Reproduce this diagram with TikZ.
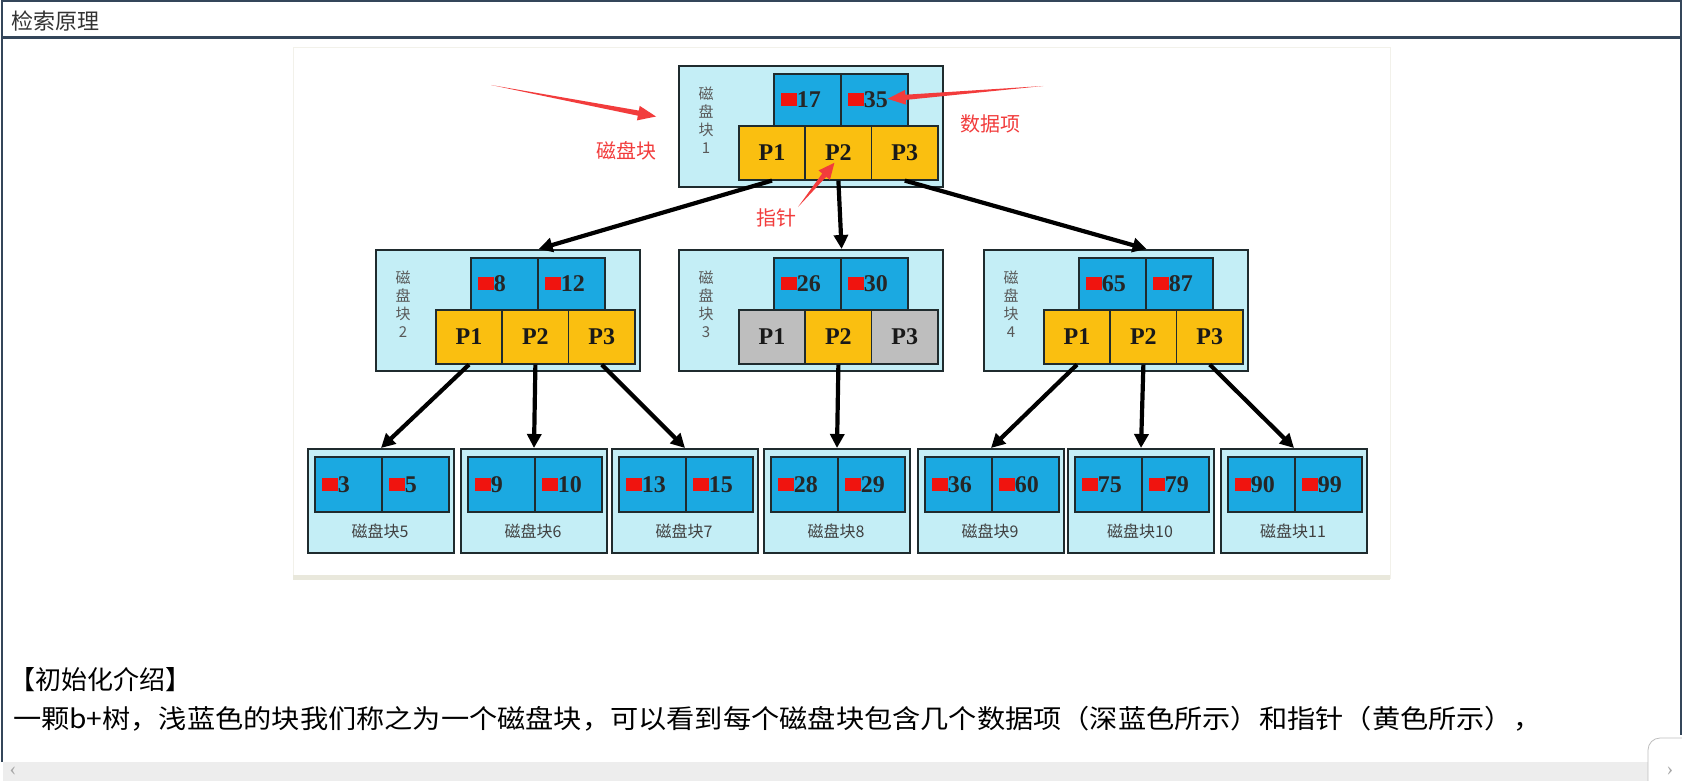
\documentclass[tikz,border=0pt]{standalone}
\usepackage{fontspec}
\setmainfont{Liberation Serif}
\newfontfamily\cjk{Noto Sans CJK SC}
\usetikzlibrary{arrows.meta,calc}

\definecolor{blockblue}{HTML}{C4EEF6}
\definecolor{itemblue}{HTML}{1BA9E1}
\definecolor{ptryellow}{HTML}{FABF10}
\definecolor{ptrgray}{HTML}{BEBEBE}
\definecolor{itemred}{HTML}{F0140F}
\definecolor{notered}{HTML}{F23C3C}
\definecolor{edgedark}{HTML}{1F2B2E}
\definecolor{framedark}{HTML}{34465A}
\definecolor{panelrim}{HTML}{E9E8DC}

\tikzset{
  blockbox/.style={draw=edgedark, line width=1pt, fill=blockblue, inner sep=0pt, anchor=north west},
  itemcell/.style={draw=edgedark, line width=0.8pt, fill=itemblue, anchor=north west, minimum height=26pt,
    text width=26.5pt, inner xsep=3.5pt, inner ysep=0pt, align=left, text=black!85,
    font=\fontsize{12pt}{14pt}\selectfont\bfseries},
  ptrcell/.style={draw=edgedark, line width=0.8pt, anchor=north west, minimum width=33.2pt, minimum height=27pt,
    inner sep=0pt, text=black!90, font=\fontsize{12pt}{14pt}\selectfont\bfseries},
  blocklabel/.style={align=center, text=black!65, font=\cjk\fontsize{7.5pt}{9pt}\selectfont},
  leaflabel/.style={text=black!75, font=\cjk\fontsize{8pt}{10pt}\selectfont},
  ptrarrow/.style={line width=2.1pt, -{Triangle[length=7pt,width=7pt]}},
  notetext/.style={text=notered, font=\cjk\fontsize{10pt}{12pt}\selectfont},
  pagetext/.style={anchor=west, font=\cjk\fontsize{13pt}{15pt}\selectfont},
}

\newcommand{\redmark}{{\color{itemred}\rule[0.7pt]{8pt}{6.5pt}}}

\begin{document}
\begin{tikzpicture}[x=0.5pt, y=-0.5pt]
  \useasboundingbox (0,0) rectangle (1682,781);

  % Define the macros.
  % \diskBlock: 1st name, 2nd left edge, 3rd top edge, 4th block number,
  % 5th and 6th data items, 7th to 9th fill of the pointers P1 to P3.
  \newcommand{\diskBlock}[9]{
    \def\bx{#2} % left edge of the block
    \def\by{#3} % top edge of the block
    \node[blockbox, minimum width=132pt, minimum height=60.5pt] (#1) at (\bx,\by) {};
    \node[blocklabel] (#1n) at (\bx+28,\by+55) {磁\\盘\\块\\#4};
    \node[itemcell] (#1d1) at (\bx+95,\by+8) {\redmark#5};   % data items
    \node[itemcell] (#1d2) at (\bx+162,\by+8) {\redmark#6};
    \node[ptrcell, fill=#7] (#1p1) at (\bx+60,\by+60) {P1};  % pointers
    \node[ptrcell, fill=#8] (#1p2) at (\bx+126.4,\by+60) {P2};
    \node[ptrcell, fill=#9] (#1p3) at (\bx+192.8,\by+60) {P3};
  }
  % \leafBlock: 1st name, 2nd left edge, 3rd and 4th data items, 5th block number.
  \newcommand{\leafBlock}[5]{
    \def\bx{#2}
    \node[blockbox, minimum width=73pt, minimum height=52pt] (#1) at (\bx,448) {};
    \node[itemcell, minimum height=27.5pt] (#1d1) at (\bx+7,456) {\redmark#3};
    \node[itemcell, minimum height=27.5pt] (#1d2) at (\bx+74,456) {\redmark#4};
    \node[leaflabel] (#1n) at (\bx+73,531) {磁盘块#5};
  }
  % \noteArrow: 1st tail, 2nd tip, 3rd length of the head.
  \newcommand{\noteArrow}[3]{
    \coordinate (hb) at ($(#2)!#3!(#1)$);
    \fill[notered] (#1) -- ($(hb)!1.3pt!90:(#2)$) -- ($(hb)!3.7pt!90:(#2)$) -- (#2)
      -- ($(hb)!3.7pt!-90:(#2)$) -- ($(hb)!1.3pt!-90:(#2)$) -- cycle;
  }

  % PAGE
  \draw[framedark, line width=1pt] (2,762) -- (2,1) -- (1681,1) -- (1681,735);
  \node[anchor=west, text=black!80, font=\cjk\fontsize{11pt}{13pt}\selectfont] (title) at (4,21) {检索原理};
  \draw[framedark, line width=1.5pt] (2,37.5) -- (1682,37.5);
  \draw[panelrim!60, fill=white] (293,47) rectangle (1390,578);
  \fill[panelrim] (293,575) rectangle (1390,580);

  % ROOT
  \diskBlock{b1}{678}{65}{1}{17}{35}{ptryellow}{ptryellow}{ptryellow}

  % INNER BLOCKS
  \diskBlock{b2}{375}{249}{2}{8}{12}{ptryellow}{ptryellow}{ptryellow}
  \diskBlock{b3}{678}{249}{3}{26}{30}{ptrgray}{ptryellow}{ptrgray}
  \diskBlock{b4}{983}{249}{4}{65}{87}{ptryellow}{ptryellow}{ptryellow}

  % LEAVES
  \leafBlock{l5}{307}{3}{5}{5}
  \leafBlock{l6}{460}{9}{10}{6}
  \leafBlock{l7}{611}{13}{15}{7}
  \leafBlock{l8}{763}{28}{29}{8}
  \leafBlock{l9}{917}{36}{60}{9}
  \leafBlock{l10}{1067}{75}{79}{10}
  \leafBlock{l11}{1220}{90}{99}{11}

  % POINTERS
  \draw[ptrarrow] (b1p1.south) -- (b2d1.north east |- b2.north);
  \draw[ptrarrow] (b1p2.south) -- (b3d1.north east |- b3.north);
  \draw[ptrarrow] (b1p3.south) -- (b4d1.north east |- b4.north);
  \foreach \src/\dst in {b2p1/l5, b2p2/l6, b2p3/l7, b3p2/l8, b4p1/l9, b4p2/l10, b4p3/l11}{
    \draw[ptrarrow] (\src.south) -- (\dst.north);
  }

  % NOTES
  \coordinate (m1tail) at (491,85);
  \coordinate (m1tip) at ($(b1.west)+(-22,-10)$);
  \coordinate (m2tail) at (1043,86);
  \coordinate (m2tip) at ($(b1d2.east)+(-21,-1)$);
  \coordinate (m3tail) at (798,207);
  \coordinate (m3tip) at ($(b1p2.center)+(-4,10)$);
  \noteArrow{m1tail}{m1tip}{9pt}
  \noteArrow{m2tail}{m2tip}{9pt}
  \noteArrow{m3tail}{m3tip}{8pt}
  \node[notetext] (m1) at (626,151) {磁盘块};
  \node[notetext] (m2) at (990,124) {数据项};
  \node[notetext] (m3) at (776,218) {指针};

  % TEXT BELOW
  \node[pagetext] (intro) at (2,680) {【初始化介绍】};
  \node[pagetext] (desc) at (6,719) {\scalebox{1.085}[1]{一颗b+树，浅蓝色的块我们称之为一个磁盘块，可以看到每个磁盘块包含几个数据项（深蓝色所示）和指针（黄色所示），}};

  % SCROLL BAR
  \fill[black!7] (3,762) rectangle (1682,781);
  \node[text=black!35, font=\fontsize{10pt}{12pt}\selectfont] (sleft) at (13,771) {‹};
  \draw[black!25, fill=white, rounded corners=6pt] (1648,738) rectangle (1700,800);
  \node[text=black!35, font=\fontsize{10pt}{12pt}\selectfont] (sright) at (1670,771) {›};
\end{tikzpicture}
\end{document}
